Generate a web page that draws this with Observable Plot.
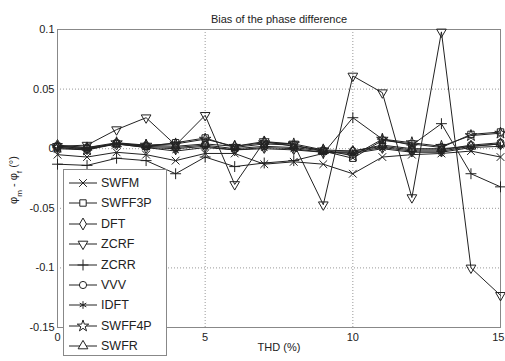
<!DOCTYPE html>
<html>
<head>
<meta charset="utf-8">
<script src="https://cdn.jsdelivr.net/npm/d3@7"></script>
<script src="https://cdn.jsdelivr.net/npm/@observablehq/plot@0.6"></script>
<style>
  html, body { margin: 0; padding: 0; background: #fff; }
  #wrap { position: relative; width: 505px; height: 361px; font-family: "Liberation Sans", Arial, sans-serif; }
  #legend { position: absolute; left: 63px; top: 169px; width: 104px; height: 187px; background: #fff; border: 1px solid #888; box-sizing: border-box; }
  #legend .row { position: absolute; left: 4px; height: 20px; display: flex; align-items: center; font-size: 12.5px; color: #222; }
  #legend svg { margin-right: 3px; }
</style>
</head>
<body>
<div id="wrap"></div>
<script>
// ---- data ----
const thd = [0, 1, 2, 3, 4, 5, 6, 7, 8, 9, 10, 11, 12, 13, 14, 15];
const methods = ["SWFM", "SWFF3P", "DFT", "ZCRF", "ZCRR", "VVV", "IDFT", "SWFF4P", "SWFR"];
const SWFM   = [-0.005, -0.007, -0.003, -0.005, -0.010, -0.004, -0.004, -0.013, -0.011, -0.013, -0.021, -0.007, -0.005, -0.004, -0.002, -0.007];
const SWFF3P = [0.002, 0.000, 0.004, 0.002, 0.005, 0.009, 0.001, 0.004, 0.003, -0.002, -0.008, 0.007, 0.004, 0.001, 0.012, 0.014];
const DFT    = [0.001, 0.000, 0.004, 0.001, 0.000, 0.002, -0.001, 0.001, 0.000, -0.003, -0.003, 0.001, -0.002, -0.002, 0.002, 0.004];
const ZCRF   = [0.002, 0.003, 0.016, 0.026, 0.003, 0.028, -0.030, 0.006, 0.004, -0.047, 0.061, 0.047, -0.041, 0.098, -0.100, -0.123];
const ZCRR   = [-0.013, -0.014, -0.008, -0.010, -0.021, -0.007, -0.015, -0.012, -0.010, -0.004, 0.026, 0.008, 0.003, 0.021, -0.021, -0.032];
const VVV    = [0.002, 0.001, 0.005, 0.002, 0.001, 0.003, 0.000, 0.002, 0.001, -0.002, -0.002, 0.002, -0.001, -0.001, 0.003, 0.005];
const IDFT   = [0.000, -0.001, 0.004, 0.001, -0.002, 0.001, -0.001, 0.000, -0.001, -0.003, -0.004, 0.000, -0.003, -0.003, 0.001, 0.002];
const SWFF4P = [0.001, -0.001, 0.005, 0.003, 0.004, 0.008, 0.002, 0.005, 0.004, -0.001, -0.006, 0.008, 0.005, 0.002, 0.011, 0.013];
const SWFR   = [0.003, 0.001, 0.004, 0.003, 0.002, 0.004, 0.002, 0.006, 0.002, -0.001, -0.002, 0.003, 0.000, 0.000, 0.002, 0.004];
const yTicks = [-0.15, -0.1, -0.05, 0, 0.05, 0.1];
const xTicks = [0, 5, 10, 15];

// ---- styles ----
const seriesValues = [SWFM, SWFF3P, DFT, ZCRF, ZCRR, VVV, IDFT, SWFF4P, SWFR];
const symbols = {SWFM: "times", SWFF3P: "square", DFT: "diamond", ZCRF: "triangle", ZCRR: "plus", VVV: "circle", IDFT: "asterisk", SWFF4P: "star", SWFR: "triangle"};
const rotations = {ZCRF: 180};
const ink = "#222";

const rows = methods.flatMap((m, i) => thd.map((x, j) => ({method: m, thd: x, bias: seriesValues[i][j]})));

const marks = [
  Plot.gridX({ticks: [5, 10], stroke: "#999", strokeOpacity: 1, strokeDasharray: "1,2"}),
  Plot.gridY({ticks: [-0.1, -0.05, 0, 0.05], stroke: "#999", strokeOpacity: 1, strokeDasharray: "1,2"}),
  Plot.frame({stroke: "#888"}),
  Plot.axisX({ticks: xTicks, tickSize: 0, tickPadding: 6, tickFormat: d => String(d), label: null}),
  Plot.axisY({ticks: yTicks, tickSize: 0, tickPadding: 3, tickFormat: d => String(d), label: null}),
  Plot.text(["Bias of the phase difference"], {frameAnchor: "top", dy: -14, fontSize: 11, fill: "#222"}),
  Plot.text(["THD (%)"], {frameAnchor: "bottom", dy: 23, fontSize: 11, fill: "#222"})
];
for (const m of methods) {
  const f = d => d.method === m;
  marks.push(Plot.line(rows, {filter: f, x: "thd", y: "bias", stroke: ink, strokeWidth: 1}));
  marks.push(Plot.dot(rows, {filter: f, x: "thd", y: "bias", symbol: () => symbols[m], rotate: rotations[m] || 0,
    r: 3.6, stroke: ink, fill: "none", strokeWidth: 1}));
}

const chart = Plot.plot({
  width: 505, height: 361,
  marginLeft: 57, marginRight: 5, marginTop: 29, marginBottom: 34,
  style: {fontFamily: "Liberation Sans, Arial, sans-serif", fontSize: "11px", color: "#222", background: "#fff"},
  x: {domain: [0, 15]},
  y: {domain: [-0.15, 0.1]},
  symbol: {type: "identity"},
  marks
});
const wrap = document.getElementById("wrap");
wrap.appendChild(chart);

const svg = d3.select(chart);
// keep the last x tick label inside the picture
svg.selectAll("text").filter(function() { return this.textContent === "15"; })
  .attr("text-anchor", "end").attr("dx", 4);

// y-axis label with subscripts
const yl = svg.append("text")
  .attr("transform", "translate(17,180) rotate(-90)")
  .attr("text-anchor", "middle")
  .attr("fill", "#222")
  .style("font-size", "11px");
yl.append("tspan").text("φ");
yl.append("tspan").attr("baseline-shift", "sub").style("font-size", "8px").text("m");
yl.append("tspan").text(" - φ");
yl.append("tspan").attr("baseline-shift", "sub").style("font-size", "8px").text("f");
yl.append("tspan").text(" (°)");

// legend
const legend = document.createElement("div");
legend.id = "legend";
wrap.appendChild(legend);
const symMap = {times: d3.symbolTimes, square: d3.symbolSquare, diamond: d3.symbolDiamond, triangle: d3.symbolTriangle,
  plus: d3.symbolPlus, circle: d3.symbolCircle, asterisk: d3.symbolAsterisk, star: d3.symbolStar};
methods.forEach((m, i) => {
  const row = document.createElement("div");
  row.className = "row";
  row.style.top = (3 + i * 20.4) + "px";
  const s = d3.create("svg").attr("width", 30).attr("height", 20);
  s.append("line").attr("x1", 1).attr("x2", 29).attr("y1", 10).attr("y2", 10).attr("stroke", ink);
  s.append("path").attr("d", d3.symbol(symMap[symbols[m]], 3.6 * 3.6 * Math.PI)())
    .attr("transform", `translate(15,10) rotate(${rotations[m] || 0})`)
    .attr("fill", "#fff").attr("stroke", ink);
  row.appendChild(s.node());
  const t = document.createElement("span");
  t.textContent = m;
  row.appendChild(t);
  legend.appendChild(row);
});
</script>
</body>
</html>
